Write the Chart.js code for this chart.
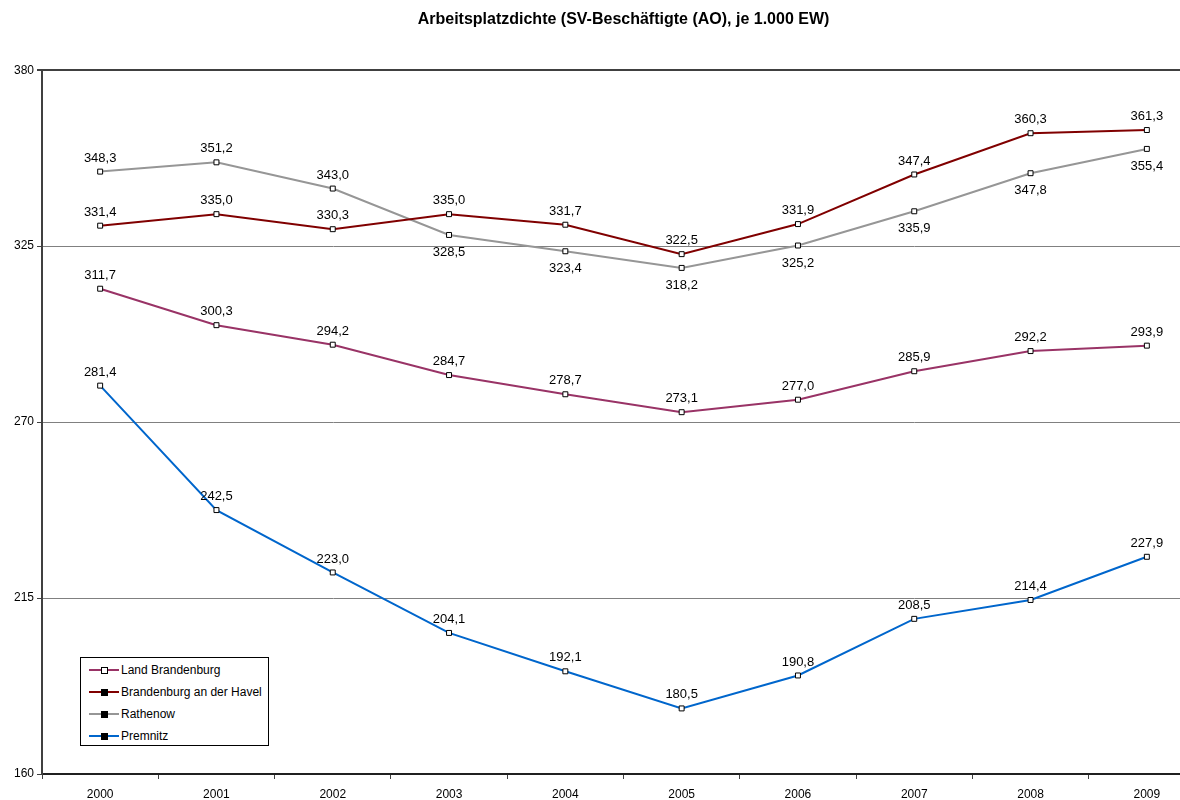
<!DOCTYPE html>
<html>
<head>
<meta charset="utf-8">
<script src="https://cdn.jsdelivr.net/npm/chart.js@4.4.1/dist/chart.umd.min.js"></script>
<style>
  html, body { margin: 0; padding: 0; background: #fff; overflow: hidden; }
  #wrap { position: relative; width: 1210px; height: 800px; }
  #legend {
    position: absolute; left: 80px; top: 657px; width: 187px; height: 87px;
    border: 1px solid #000; background: #fff;
    font: 12px "Liberation Sans", Arial, sans-serif; color: #000;
  }
  .item { position: absolute; left: 8px; height: 14px; line-height: 14px; }
  .item .ln { position: absolute; left: 0; top: 6px; width: 30px; height: 2px; }
  .item .mk { position: absolute; left: 12px; top: 4px; width: 5px; height: 5px; border: 1px solid #000; box-sizing: content-box; }
  .item span { position: absolute; left: 32px; white-space: nowrap; }
</style>
</head>
<body>
<div id="wrap">
  <canvas id="chart" width="1210" height="800"></canvas>
  <div id="legend"></div>
</div>
<script>
const years = ['2000', '2001', '2002', '2003', '2004', '2005', '2006', '2007', '2008', '2009'];
const landBrandenburg = [311.7, 300.3, 294.2, 284.7, 278.7, 273.1, 277.0, 285.9, 292.2, 293.9];
const brandenburgHavel = [331.4, 335.0, 330.3, 335.0, 331.7, 322.5, 331.9, 347.4, 360.3, 361.3];
const rathenow = [348.3, 351.2, 343.0, 328.5, 323.4, 318.2, 325.2, 335.9, 347.8, 355.4];
const premnitz = [281.4, 242.5, 223.0, 204.1, 192.1, 180.5, 190.8, 208.5, 214.4, 227.9];
const yTicks = [160, 215, 270, 325, 380];

// where the value labels sit: 'a' above, 'b' below
const rathenowLabelPos = ['a', 'a', 'a', 'b', 'b', 'b', 'b', 'b', 'b', 'b'];

const series = [
  { label: 'Land Brandenburg', data: landBrandenburg, color: '#993366', legendMarker: '#fff' },
  { label: 'Brandenburg an der Havel', data: brandenburgHavel, color: '#800000', legendMarker: '#000' },
  { label: 'Rathenow', data: rathenow, color: '#969696', legendMarker: '#000', labelPos: rathenowLabelPos },
  { label: 'Premnitz', data: premnitz, color: '#0066CC', legendMarker: '#000' }
];

const fontFamily = '"Liberation Sans", Arial, sans-serif';

const valueLabels = {
  id: 'valueLabels',
  afterDatasetsDraw(chart) {
    const ctx = chart.ctx;
    ctx.save();
    ctx.font = '13px ' + fontFamily;
    ctx.fillStyle = '#000';
    ctx.textAlign = 'center';
    chart.data.datasets.forEach((ds, di) => {
      const meta = chart.getDatasetMeta(di);
      const pos = series[di].labelPos;
      meta.data.forEach((pt, i) => {
        const txt = ds.data[i].toFixed(1).replace('.', ',');
        if (pos && pos[i] === 'b') {
          ctx.textBaseline = 'top';
          ctx.fillText(txt, pt.x, pt.y + 11);
        } else {
          ctx.textBaseline = 'bottom';
          ctx.fillText(txt, pt.x, pt.y - 7);
        }
      });
    });
    ctx.restore();
  }
};

new Chart(document.getElementById('chart'), {
  type: 'line',
  data: {
    labels: years,
    datasets: series.map(s => ({
      label: s.label,
      data: s.data,
      borderColor: s.color,
      borderWidth: 2,
      pointStyle: 'rect',
      pointRadius: 3.5,
      pointBackgroundColor: '#fff',
      pointBorderColor: '#000',
      pointBorderWidth: 1,
      tension: 0
    }))
  },
  options: {
    responsive: false,
    animation: false,
    layout: { padding: { left: 0, right: 5, top: 0, bottom: 0 } },
    plugins: {
      legend: { display: false },
      tooltip: { enabled: false },
      title: {
        display: true,
        fullSize: false,
        text: 'Arbeitsplatzdichte (SV-Beschäftigte (AO), je 1.000 EW)',
        color: '#000',
        font: { family: fontFamily, size: 16, weight: 'bold' },
        padding: { top: 10, bottom: 41 }
      }
    },
    scales: {
      x: {
        offset: true,
        grid: { offset: true, drawOnChartArea: false, drawTicks: true, tickLength: 5, color: '#404040', lineWidth: 1 },
        border: { color: '#202020', width: 2 },
        ticks: { color: '#000', font: { family: fontFamily, size: 12 }, padding: 8 },
        afterFit(scale) { scale.height = 26; }
      },
      y: {
        min: 160,
        max: 380,
        afterBuildTicks(scale) { scale.ticks = yTicks.map(v => ({ value: v })); },
        grid: {
          color: ctx => ctx.tick && ctx.tick.value === 380 ? '#404040' : '#808080',
          lineWidth: ctx => ctx.tick && ctx.tick.value === 380 ? 2 : 1,
          tickColor: '#404040',
          tickLength: 5
        },
        border: { color: '#404040', width: 2 },
        ticks: { color: '#000', font: { family: fontFamily, size: 12 }, padding: 3 },
        afterFit(scale) { scale.width = 42; }
      }
    }
  },
  plugins: [valueLabels]
});

// legend box
const legend = document.getElementById('legend');
series.forEach((s, i) => {
  const item = document.createElement('div');
  item.className = 'item';
  item.style.top = (5 + i * 22) + 'px';
  item.innerHTML = '<div class="ln" style="background:' + s.color + '"></div>' +
    '<div class="mk" style="background:' + s.legendMarker + '"></div>' +
    '<span>' + s.label + '</span>';
  legend.appendChild(item);
});
</script>
</body>
</html>
